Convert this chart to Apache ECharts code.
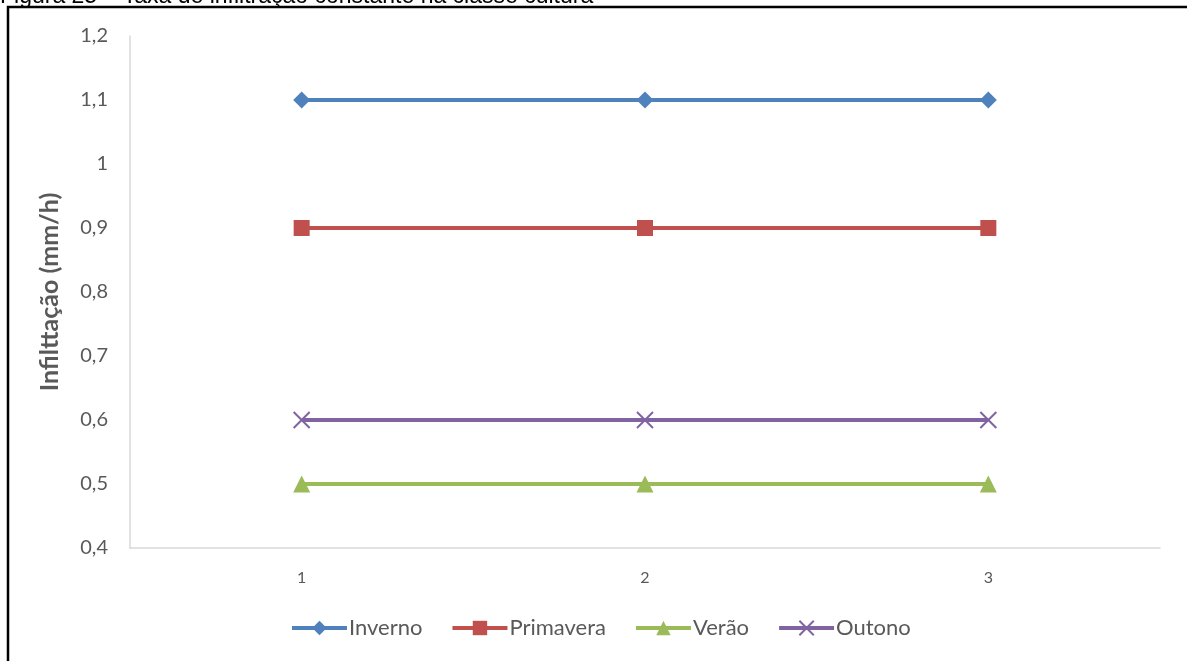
<!DOCTYPE html>
<html>
<head>
<meta charset="utf-8">
<script src="https://cdn.jsdelivr.net/npm/echarts@6/dist/echarts.min.js"></script>
<style>
  html, body { margin: 0; padding: 0; background: #fff; }
  #chart { width: 1187px; height: 661px; }
</style>
</head>
<body>
<div id="chart"></div>
<script>
// Constant infiltration rate per season
const categories = ['1', '2', '3'];
const inverno   = [1.1, 1.1, 1.1];
const primavera = [0.9, 0.9, 0.9];
const verao     = [0.5, 0.5, 0.5];
const outono    = [0.6, 0.6, 0.6];
const yTicks = { min: 0.4, max: 1.2, step: 0.1 };

const FONT = 'Lato, "Open Sans", sans-serif';
const TEXT = '#595959';

const chart = echarts.init(document.getElementById('chart'));

function seriesOf(name, data, color, symbol, size, extraItem) {
  return {
    name, type: 'line', data,
    symbol, symbolSize: size,
    lineStyle: { color, width: 4 },
    itemStyle: Object.assign({ color }, extraItem || {}),
    emphasis: { disabled: true },
    z: 3
  };
}

chart.setOption({
  animation: false,
  backgroundColor: '#ffffff',
  graphic: [
    {
      type: 'rect', silent: true,
      shape: { x: 8, y: 7, width: 1200, height: 700 },
      style: { fill: 'none', stroke: '#000', lineWidth: 2.5 }
    },
    {
      type: 'text', silent: true, left: 0, top: -15,
      style: { text: 'Figura 25 – Taxa de infiltração constante na classe cultura',
               font: '23px Arial, "Liberation Sans", sans-serif', fill: '#000' }
    }
  ],
  grid: { left: 130, right: 27, top: 36, bottom: 113, containLabel: false },
  legend: {
    top: 612, left: 285,
    itemWidth: 55, itemHeight: 18, itemGap: 28,
    lineStyle: { width: 4 },
    textStyle: { fontFamily: FONT, fontSize: 22, color: TEXT, padding: [0, 0, 0, -3] },
    data: ['Inverno', 'Primavera', 'Verão', 'Outono']
  },
  xAxis: {
    type: 'category', data: categories, boundaryGap: true,
    axisLine: { lineStyle: { color: '#D9D9D9', width: 1.5 } },
    axisTick: { show: false },
    axisLabel: { fontFamily: FONT, fontSize: 16, color: TEXT, margin: 22 },
    splitLine: { show: false }
  },
  yAxis: {
    type: 'value', min: yTicks.min, max: yTicks.max, interval: yTicks.step,
    name: 'Infilttação (mm/h)', nameLocation: 'middle', nameGap: 68,
    nameTextStyle: { fontFamily: FONT, fontSize: 25, fontWeight: 'bold', color: TEXT },
    axisLine: { show: true, lineStyle: { color: '#D9D9D9', width: 1.5 } },
    axisTick: { show: false },
    splitLine: { show: false },
    axisLabel: {
      fontFamily: FONT, fontSize: 20, color: TEXT, margin: 22,
      formatter: v => String(Math.round(v * 10) / 10).replace('.', ',')
    }
  },
  series: [
    seriesOf('Inverno', inverno, '#4F81BD', 'diamond', 17),
    seriesOf('Primavera', primavera, '#C0504D', 'rect', 16),
    seriesOf('Verão', verao, '#9BBB59', 'triangle', 17),
    seriesOf('Outono', outono, '#8064A2', 'path://M0,0L10,10M10,0L0,10', 16,
             { borderColor: '#8064A2', borderWidth: 2 })
  ]
});
</script>
</body>
</html>
